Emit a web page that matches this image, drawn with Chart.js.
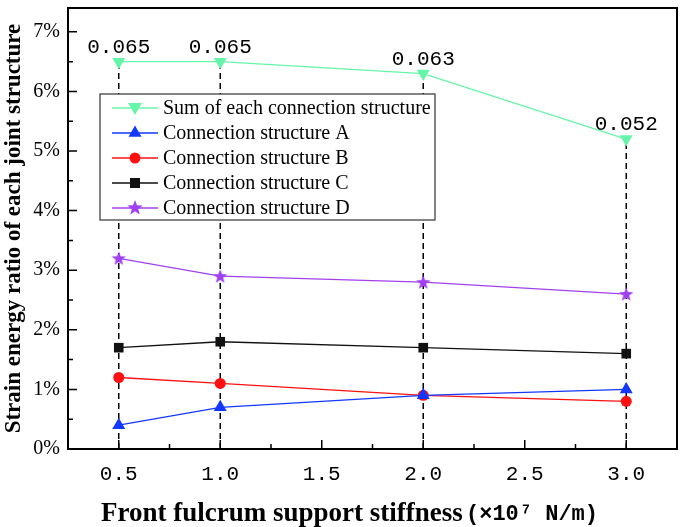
<!DOCTYPE html>
<html lang="en">
<head>
<meta charset="UTF-8">
<title>Strain energy ratio of each joint structure</title>
<script src="https://cdn.jsdelivr.net/npm/chart.js"></script>
<style>
  body { margin: 0; background: #fff; }
</style>
</head>
<body>
<canvas id="strainChart" width="685" height="527"></canvas>
<script>
// values (percent)
const stiffness = [0.5, 1.0, 2.0, 3.0];
const sumEach = [6.5, 6.5, 6.3, 5.2];
const structA = [0.4, 0.7, 0.9, 1.0];
const structB = [1.2, 1.1, 0.9, 0.8];
const structC = [1.7, 1.8, 1.7, 1.6];
const structD = [3.2, 2.9, 2.8, 2.6];
const xTicks = [0.5, 1.0, 1.5, 2.0, 2.5, 3.0];
const yTicks = [0, 1, 2, 3, 4, 5, 6, 7];
const names = ['Sum of each connection structure', 'Connection structure A',
    'Connection structure B', 'Connection structure C', 'Connection structure D'];
const colors = ['#66f5a8', '#1238ff', '#ff1010', '#111111', '#a040f0'];
const markers = ['triangleDown', 'triangle', 'circle', 'rect', 'star'];
const xTitle = 'Front fulcrum support stiffness';
const xUnit = '(×10⁷ N/m)';

const serif = '"Liberation Serif", "Times New Roman", serif';
const mono = '"Liberation Mono", "DejaVu Sans Mono", monospace';

function markerPath(ctx, kind, x, y, r) {
    ctx.beginPath();
    if (kind === 'circle') {
        ctx.arc(x, y, r, 0, Math.PI * 2);
    } else if (kind === 'rect') {
        ctx.rect(x - r, y - r, 2 * r, 2 * r);
    } else if (kind === 'triangle' || kind === 'triangleDown') {
        const s = kind === 'triangle' ? 1 : -1;
        ctx.moveTo(x, y - s * r);
        ctx.lineTo(x + r * 0.866, y + s * r * 0.5);
        ctx.lineTo(x - r * 0.866, y + s * r * 0.5);
        ctx.closePath();
    } else if (kind === 'star') {
        for (let i = 0; i < 10; i++) {
            const rr = i % 2 === 0 ? r : r * 0.42;
            const a = -Math.PI / 2 + i * Math.PI / 5;
            const px = x + rr * Math.cos(a), py = y + rr * Math.sin(a);
            i === 0 ? ctx.moveTo(px, py) : ctx.lineTo(px, py);
        }
        ctx.closePath();
    }
}

// filled star image for the D series
const starImg = document.createElement('canvas');
starImg.width = 16; starImg.height = 16;
(function () {
    const c = starImg.getContext('2d');
    markerPath(c, 'star', 8, 8.6, 7.5);
    c.fillStyle = colors[4];
    c.fill();
})();

function series(i, data, style, radius, rotation) {
    return {
        label: names[i],
        data: stiffness.map((x, k) => ({ x: x, y: data[k] })),
        borderColor: colors[i],
        backgroundColor: colors[i],
        borderWidth: 1.3,
        pointStyle: style,
        pointRadius: radius,
        pointHoverRadius: radius,
        pointRotation: rotation || 0,
        pointBorderWidth: 0,
        tension: 0
    };
}

const noPadding = () => ({ left: 0, top: 0, right: 0, bottom: 0 });

const framePlugin = {
    id: 'frame',
    beforeDatasetsDraw(chart) {
        const { ctx, scales: { x, y } } = chart;
        ctx.save();
        ctx.strokeStyle = '#000';
        ctx.lineWidth = 1.5;
        ctx.setLineDash([6, 4]);
        stiffness.forEach((v, k) => {
            ctx.beginPath();
            ctx.moveTo(x.getPixelForValue(v), y.getPixelForValue(0));
            ctx.lineTo(x.getPixelForValue(v), y.getPixelForValue(sumEach[k]));
            ctx.stroke();
        });
        ctx.restore();
    },
    afterDatasetsDraw(chart) {
        const { ctx, chartArea: a, scales: { x, y } } = chart;
        ctx.save();
        // value labels on the sum line
        const meta = chart.getDatasetMeta(0);
        ctx.fillStyle = '#000';
        ctx.font = '21px ' + mono;
        ctx.textAlign = 'center';
        ctx.textBaseline = 'alphabetic';
        meta.data.forEach((pt, k) => {
            ctx.fillText((sumEach[k] / 100).toFixed(3), pt.x, pt.y - 9);
        });
        // frame
        ctx.strokeStyle = '#000';
        ctx.lineWidth = 2;
        ctx.strokeRect(a.left, a.top, a.right - a.left, a.bottom - a.top);
        // inward ticks (minor ones halfway, only inside the frame)
        ctx.lineWidth = 1.5;
        ctx.beginPath();
        yTicks.forEach(v => {
            const py = y.getPixelForValue(v);
            ctx.moveTo(a.left, py); ctx.lineTo(a.left + 9, py);
            if (v + 0.5 < y.max) {
                const mid = y.getPixelForValue(v + 0.5);
                ctx.moveTo(a.left, mid); ctx.lineTo(a.left + 5, mid);
            }
        });
        xTicks.forEach(v => {
            const px = x.getPixelForValue(v);
            ctx.moveTo(px, a.bottom); ctx.lineTo(px, a.bottom - 9);
            if (v + 0.25 < x.max) {
                const mid = x.getPixelForValue(v + 0.25);
                ctx.moveTo(mid, a.bottom); ctx.lineTo(mid, a.bottom - 5);
            }
        });
        ctx.stroke();
        // x axis title
        ctx.textAlign = 'left';
        ctx.font = 'bold 27px ' + serif;
        ctx.fillText(xTitle, 101, 521);
        ctx.font = 'bold 22px ' + mono;
        ctx.fillText(xUnit, 466, 520);
        ctx.restore();
    },
    afterDraw(chart) {
        const { ctx } = chart;
        const bx = 100, by = 94, bw = 335, bh = 126;
        ctx.save();
        ctx.fillStyle = '#fff';
        ctx.fillRect(bx, by, bw, bh);
        ctx.strokeStyle = '#333';
        ctx.lineWidth = 1.2;
        ctx.strokeRect(bx, by, bw, bh);
        const sizes = [8, 7.5, 5.5, 5, 8];
        names.forEach((n, i) => {
            const cy = by + 14 + i * 25;
            ctx.strokeStyle = colors[i];
            ctx.lineWidth = 1.3;
            ctx.beginPath();
            ctx.moveTo(112, cy); ctx.lineTo(158, cy);
            ctx.stroke();
            ctx.fillStyle = colors[i];
            markerPath(ctx, markers[i], 135, cy + (markers[i] === 'triangleDown' ? -1 : 0), sizes[i]);
            ctx.fill();
            ctx.fillStyle = '#000';
            ctx.font = '20px ' + serif;
            ctx.textAlign = 'left';
            ctx.textBaseline = 'middle';
            ctx.fillText(n, 163, cy + 1);
        });
        ctx.restore();
    }
};

new Chart(document.getElementById('strainChart'), {
    type: 'line',
    data: {
        datasets: [
            series(0, sumEach, 'triangle', 7.5, 180),
            series(1, structA, 'triangle', 7.5),
            series(2, structB, 'circle', 5.5),
            series(3, structC, 'rect', 6.8),
            series(4, structD, starImg, 8)
        ]
    },
    options: {
        responsive: false,
        animation: false,
        layout: { padding: { top: 3, right: 5, left: 0, bottom: 0 } },
        plugins: { legend: { display: false }, tooltip: { enabled: false } },
        scales: {
            x: {
                type: 'linear',
                min: 0.25,
                max: 3.25,
                afterBuildTicks: s => { s.ticks = xTicks.map(v => ({ value: v })); },
                afterFit: s => { s.height = 78; s.getPadding = noPadding; },
                grid: { display: false, drawTicks: false },
                border: { display: false },
                ticks: {
                    color: '#000',
                    padding: 13,
                    font: { family: mono, size: 21 },
                    callback: v => v.toFixed(1)
                }
            },
            y: {
                min: 0,
                max: 7.4,
                afterBuildTicks: s => { s.ticks = yTicks.map(v => ({ value: v })); },
                afterFit: s => { s.width = 68; s.getPadding = noPadding; },
                grid: { display: false, drawTicks: false },
                border: { display: false },
                ticks: {
                    color: '#000',
                    padding: 8,
                    font: { family: serif, size: 20 },
                    callback: v => v + '%'
                },
                title: {
                    display: true,
                    text: 'Strain energy ratio of each joint structure',
                    color: '#000',
                    font: { family: serif, size: 23, weight: 'bold' },
                    padding: { top: 0, bottom: 0 }
                }
            }
        }
    },
    plugins: [framePlugin]
});
</script>
</body>
</html>
